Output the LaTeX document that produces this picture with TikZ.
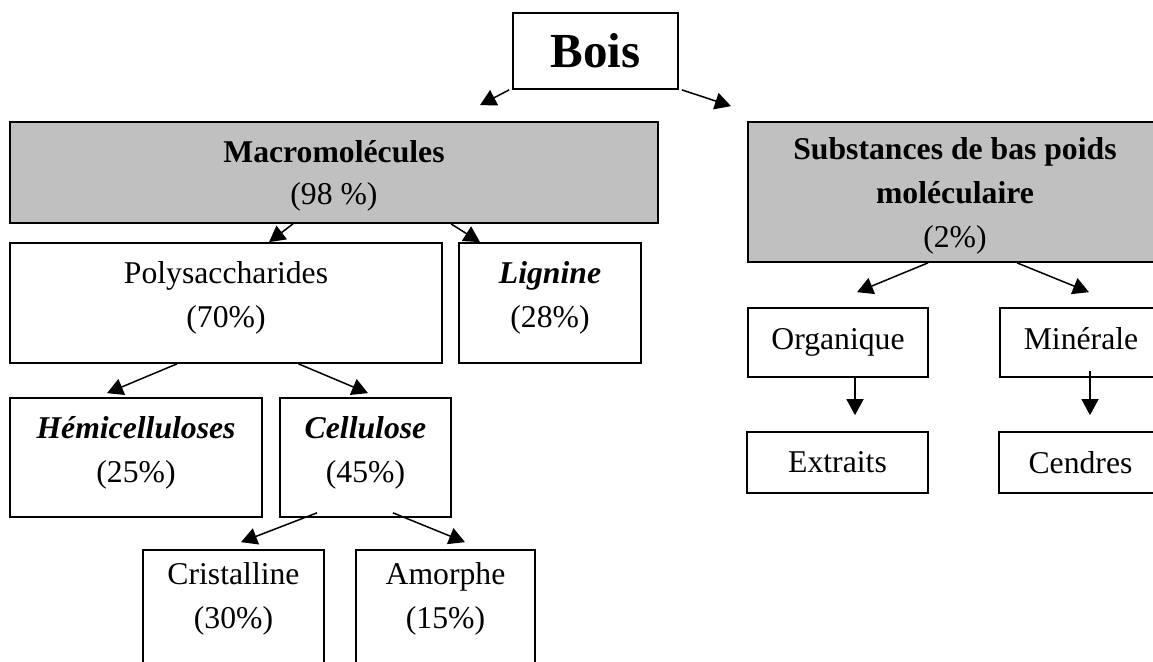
\documentclass[tikz,border=0pt]{standalone}
\usepackage{fontspec}
\setmainfont{Liberation Serif}
\usetikzlibrary{arrows.meta,calc}
\definecolor{boxgray}{HTML}{C0C0C0}
\begin{document}
\begin{tikzpicture}[x=1pt,y=-1pt,
  box/.style={draw=black,line width=1.7pt,rectangle,inner sep=0pt,align=center,
    font=\fontsize{31.7}{44}\selectfont},
  graybox/.style={box,fill=boxgray},
  single/.style={text height=21pt,text depth=8pt},
  txt/.style={inner sep=0pt,align=center,font=\fontsize{31.7}{44}\selectfont},
  conn/.style={line width=1.5pt,-{Triangle[length=16pt,width=17pt]}}]
\useasboundingbox (0,0) rectangle (1153,661);
\clip (0,0) rectangle (1153,661);
% boxes
\node[box,minimum width=165pt,minimum height=76pt,font=\fontsize{49}{50}\selectfont\bfseries] (bois) at (595.5,51) {Bois};
\node[graybox,minimum width=648pt,minimum height=101pt] (macro) at (334,172.5) {};
\node[txt,font=\fontsize{31.7}{42}\selectfont] (macro-t) at (334,176) {\textbf{Macromolécules}\\(98 \%)};
\node[graybox,minimum width=414pt,minimum height=140pt] (subst) at (955,192) {};
\node[txt] (subst-t) at (955,196) {\textbf{Substances de bas poids}\\\textbf{moléculaire}\\(2\%)};
\node[box,minimum width=432pt,minimum height=120pt] (poly) at (226,303) {};
\node[txt] (poly-t) at (226,298) {Polysaccharides\\(70\%)};
\node[box,minimum width=182pt,minimum height=120pt] (lign) at (550,303) {};
\node[txt] (lign-t) at (550,298) {\textbf{\textit{Lignine}}\\(28\%)};
\node[box,minimum width=252pt,minimum height=119pt] (hemi) at (136,457.5) {};
\node[txt] (hemi-t) at (136,453) {\textbf{\textit{Hémicelluloses}}\\(25\%)};
\node[box,minimum width=171pt,minimum height=119pt] (cell) at (365.5,457.5) {};
\node[txt] (cell-t) at (365.5,453) {\textbf{\textit{Cellulose}}\\(45\%)};
\node[box,minimum width=181pt,minimum height=120pt] (crist) at (233.5,610) {};
\node[txt] (crist-t) at (233.5,599) {Cristalline\\(30\%)};
\node[box,minimum width=179pt,minimum height=120pt] (amor) at (445.5,610) {};
\node[txt] (amor-t) at (445.5,599) {Amorphe\\(15\%)};
\node[box,single,minimum width=180pt,minimum height=69pt] (org) at (838,342.5) {Organique};
\node[box,single,minimum width=162pt,minimum height=69pt] (mine) at (1081,342.5) {Minérale};
\node[box,minimum width=181pt,minimum height=61pt] (extr) at (837.5,462.5) {Extraits};
\node[box,minimum width=163pt,minimum height=61pt] (cend) at (1080.5,462.5) {Cendres};
% connectors
\draw[conn] ($(bois.south west)+(-3,0)$) -- ($(macro.north)+(146,-16)$);
\draw[conn] ($(bois.south east)+(3,0)$) -- ($(subst.north)+(-224,-15)$);
\draw[conn] ($(macro.south)+(-41,0)$) -- ($(poly.north)+(43,0)$);
\draw[conn] ($(macro.south)+(117,0)$) -- ($(lign.north)+(-70,0)$);
\draw[conn] ($(poly.south)+(-49,0)$) -- ($(hemi.north)+(-29,-4)$);
\draw[conn] ($(poly.south)+(72.5,0)$) -- ($(cell.north)+(2.5,-4)$);
\draw[conn] ($(cell.south)+(-48.5,-5)$) -- ($(crist.north)+(7.5,-7)$);
\draw[conn] ($(cell.south)+(27.5,-5)$) -- ($(amor.north)+(19.5,-7)$);
\draw[conn] ($(subst.south)+(-27,0)$) -- ($(org.north)+(19,-15)$);
\draw[conn] ($(subst.south)+(62,0)$) -- ($(mine.north)+(8,-15)$);
\draw[conn] ($(org.south)+(17,0)$) -- ($(extr.north)+(17.5,-16)$);
\draw[conn] ($(mine.south)+(9,-7)$) -- ($(cend.north)+(9.5,-16)$);
\end{tikzpicture}
\end{document}
